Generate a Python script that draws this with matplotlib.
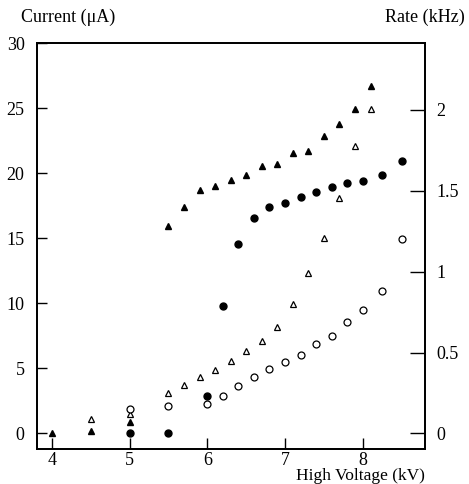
import matplotlib
matplotlib.use("Agg")
import matplotlib.pyplot as plt

plt.rcParams['font.family'] = ['Liberation Serif', 'DejaVu Serif']

# Current (uA) - filled markers, left axis
hv_tri_cur = [4.0, 4.5, 5.0, 5.5, 5.7, 5.9, 6.1, 6.3, 6.5, 6.7, 6.9, 7.1, 7.3, 7.5, 7.7, 7.9, 8.1]
cur_tri = [0.0, 0.15, 0.87, 15.95, 17.4, 18.7, 19.0, 19.5, 19.9, 20.55, 20.7, 21.6, 21.7, 22.9, 23.8, 24.95, 26.75]

hv_circ_cur = [5.0, 5.5, 6.0, 6.2, 6.4, 6.6, 6.8, 7.0, 7.2, 7.4, 7.6, 7.8, 8.0, 8.25, 8.5]
cur_circ = [0.0, 0.05, 2.85, 9.8, 14.6, 16.55, 17.4, 17.7, 18.15, 18.6, 18.95, 19.25, 19.4, 19.9, 20.95]

# Rate (kHz) - open markers, right axis
hv_tri_rate = [4.5, 5.0, 5.5, 5.7, 5.9, 6.1, 6.3, 6.5, 6.7, 6.9, 7.1, 7.3, 7.5, 7.7, 7.9, 8.1]
rate_tri = [0.09, 0.117, 0.25, 0.30, 0.35, 0.39, 0.45, 0.51, 0.57, 0.66, 0.80, 0.99, 1.21, 1.455, 1.775, 2.005]

hv_circ_rate = [5.0, 5.5, 6.0, 6.2, 6.4, 6.6, 6.8, 7.0, 7.2, 7.4, 7.6, 7.8, 8.0, 8.25, 8.5]
rate_circ = [0.153, 0.169, 0.181, 0.23, 0.294, 0.35, 0.40, 0.439, 0.486, 0.55, 0.605, 0.686, 0.764, 0.878, 1.20]

left_ticks = [0, 5, 10, 15, 20, 25, 30]
right_ticks = [0, 0.5, 1, 1.5, 2]
right_tick_labels = ['0', '0.5', '1', '1.5', '2']
x_ticks = [4, 5, 6, 7, 8]

fig = plt.figure(figsize=(4.69, 4.84), dpi=100)
ax = fig.add_axes([37/469, 35/484, (425-37)/469, (449-43.3)/484])
ax2 = ax.twinx()

ms = 5.0
ax.plot(hv_tri_cur, cur_tri, linestyle='none', marker='^', ms=ms, color='black')
ax.plot(hv_circ_cur, cur_circ, linestyle='none', marker='o', ms=ms, color='black')
ax2.plot(hv_tri_rate, rate_tri, linestyle='none', marker='^', ms=ms, mfc='white', mec='black', mew=0.9)
ax2.plot(hv_circ_rate, rate_circ, linestyle='none', marker='o', ms=ms, mfc='white', mec='black', mew=0.9)

ax.set_xlim(3.81, 8.80)
ax.set_ylim(-1.2, 30)
scale = 12.44
ax2.set_ylim(-1.2/scale, 30/scale)

ax.set_xticks(x_ticks)
ax.set_yticks(left_ticks)
ax2.set_yticks(right_ticks)
ax2.set_yticklabels(right_tick_labels)

fs = 13
ax.tick_params(axis='x', direction='in', length=8, width=1, pad=2, labelsize=fs, top=False)
ax.tick_params(axis='y', direction='in', length=7, width=1, pad=9, labelsize=fs, right=False)
ax2.tick_params(axis='y', direction='in', length=11, width=1, pad=8, labelsize=fs)

for a in (ax, ax2):
    for s in a.spines.values():
        s.set_linewidth(1.3)

fig.text(21/469, 1 - 17/484, 'Current (\u03bcA)', fontsize=fs, ha='left', va='center')
fig.text(465/469, 1 - 17/484, 'Rate (kHz)', fontsize=fs, ha='right', va='center')
fig.text(425/469, 1 - 476/484, 'High Voltage (kV)', fontsize=12.5, ha='right', va='center')

fig.savefig('out.png', dpi=100)
